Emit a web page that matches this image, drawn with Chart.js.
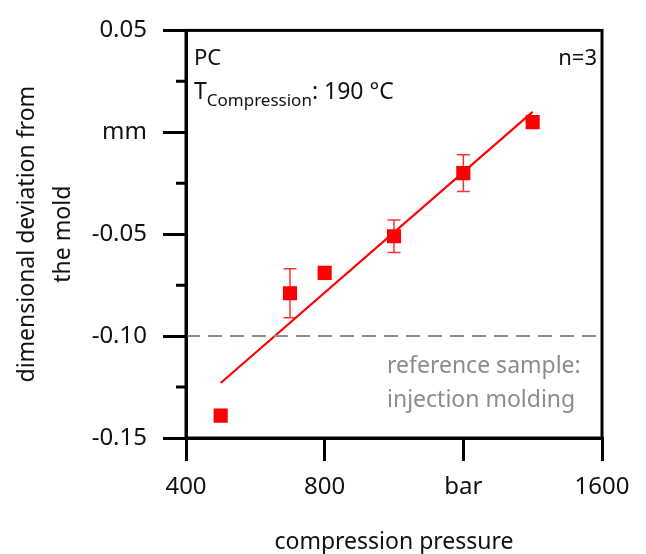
<!DOCTYPE html>
<html>
<head>
<meta charset="utf-8">
<script src="https://cdn.jsdelivr.net/npm/chart.js@4"></script>
<style>
    html, body { margin: 0; padding: 0; background: #fff; }
    canvas { display: block; }
</style>
</head>
<body>
<canvas id="chart" width="646" height="554"></canvas>
<script>
// measured data: compression pressure (bar) vs. deviation (mm)
const pressures = [500, 700, 800, 1000, 1200, 1400];
const deviations = [-0.139, -0.079, -0.069, -0.051, -0.020, 0.005];
const errors = [0, 0.012, 0, 0.008, 0.009, 0];

// linear fit end points
const fitX = [500, 1400];
const fitY = [-0.123, 0.010];

// reference level (injection molding)
const refX = [400, 1600];
const refY = [-0.10, -0.10];

const xTickLabels = ['400', '800', 'bar', '1600'];
const yTickLabels = ['-0.15', '-0.10', '-0.05', 'mm', '0.05'];
const yMinorTicks = [-0.125, -0.075, -0.025, 0.025];

const FONT = "'Noto Sans', sans-serif";
const RED = '#ff0000';

const frame = {
    id: 'frame',
    beforeDatasetsDraw(chart) {
        const ctx = chart.ctx;
        const x = chart.scales.x, y = chart.scales.y;
        // error bars
        ctx.save();
        ctx.strokeStyle = '#ff3333';
        ctx.lineWidth = 1.5;
        pressures.forEach((p, i) => {
            if (!errors[i]) return;
            const px = x.getPixelForValue(p);
            const top = y.getPixelForValue(deviations[i] + errors[i]);
            const bot = y.getPixelForValue(deviations[i] - errors[i]);
            ctx.beginPath();
            ctx.moveTo(px, top); ctx.lineTo(px, bot);
            ctx.moveTo(px - 6.5, top); ctx.lineTo(px + 6.5, top);
            ctx.moveTo(px - 6.5, bot); ctx.lineTo(px + 6.5, bot);
            ctx.stroke();
        });
        ctx.restore();
    },
    afterDraw(chart) {
        const ctx = chart.ctx;
        const a = chart.chartArea;
        const y = chart.scales.y;
        ctx.save();
        ctx.strokeStyle = '#000';
        ctx.lineWidth = 3;
        ctx.strokeRect(a.left, a.top, a.right - a.left, a.bottom - a.top);
        // minor ticks on y
        ctx.beginPath();
        yMinorTicks.forEach(v => {
            const py = y.getPixelForValue(v);
            ctx.moveTo(a.left - 10, py);
            ctx.lineTo(a.left, py);
        });
        ctx.stroke();

        // annotations
        ctx.fillStyle = '#111';
        ctx.textBaseline = 'alphabetic';
        ctx.font = '22px ' + FONT;
        ctx.textAlign = 'left';
        ctx.fillText('PC', a.left + 8, a.top + 35);
        ctx.textAlign = 'right';
        ctx.fillText('n=3', a.right - 5, a.top + 35);

        ctx.textAlign = 'left';
        let tx = a.left + 8;
        ctx.font = '23px ' + FONT;
        ctx.fillText('T', tx, a.top + 69);
        tx += ctx.measureText('T').width;
        ctx.font = '17px ' + FONT;
        ctx.fillText('Compression', tx, a.top + 76);
        tx += ctx.measureText('Compression').width;
        ctx.font = '23px ' + FONT;
        ctx.fillText(': 190 °C', tx, a.top + 69);

        ctx.fillStyle = '#8c8c8c';
        ctx.font = '23px ' + FONT;
        ctx.fillText('reference sample:', a.left + 201, a.top + 343);
        ctx.fillText('injection molding', a.left + 201, a.top + 377);
        ctx.restore();
    }
};

new Chart(document.getElementById('chart'), {
    type: 'scatter',
    data: {
        datasets: [{
            label: 'reference',
            data: refX.map((v, i) => ({ x: v, y: refY[i] })),
            showLine: true,
            borderColor: '#8c8c8c',
            borderWidth: 2,
            borderDash: [14, 8],
            pointRadius: 0
        }, {
            label: 'fit',
            data: fitX.map((v, i) => ({ x: v, y: fitY[i] })),
            showLine: true,
            borderColor: RED,
            borderWidth: 2.2,
            pointRadius: 0
        }, {
            label: 'PC',
            data: pressures.map((v, i) => ({ x: v, y: deviations[i] })),
            pointStyle: 'rect',
            pointRadius: 10,
            pointHoverRadius: 10,
            backgroundColor: RED,
            borderWidth: 0
        }]
    },
    options: {
        responsive: false,
        animation: false,
        maintainAspectRatio: false,
        layout: { padding: { top: 24, right: 44, left: 0, bottom: 0 } },
        plugins: { legend: { display: false }, tooltip: { enabled: false } },
        scales: {
            x: {
                type: 'linear',
                min: 400,
                max: 1600,
                afterFit(scale) { scale.height = 116; },
                afterBuildTicks(scale) {
                    scale.ticks = [400, 800, 1200, 1600].map(v => ({ value: v }));
                },
                border: { color: '#000', width: 3 },
                grid: { drawOnChartArea: false, color: '#000', lineWidth: 3, tickLength: 23 },
                ticks: {
                    color: '#111',
                    padding: 12,
                    maxRotation: 0,
                    font: { family: FONT, size: 24 },
                    callback: (v, i) => xTickLabels[i]
                },
                title: {
                    display: true,
                    text: 'compression pressure',
                    color: '#111',
                    font: { family: FONT, size: 23 },
                    padding: { top: 0, bottom: -2 }
                }
            },
            y: {
                type: 'linear',
                min: -0.15,
                max: 0.05,
                afterFit(scale) { scale.width = 186; },
                afterBuildTicks(scale) {
                    scale.ticks = [-0.15, -0.10, -0.05, 0, 0.05].map(v => ({ value: v }));
                },
                border: { color: '#000', width: 3 },
                grid: { drawOnChartArea: false, color: '#000', lineWidth: 3, tickLength: 23 },
                ticks: {
                    color: '#111',
                    padding: 16,
                    font: { family: FONT, size: 24 },
                    callback: (v, i) => yTickLabels[i]
                },
                title: {
                    display: true,
                    text: ['dimensional deviation from', 'the mold'],
                    color: '#111',
                    font: { family: FONT, size: 23, lineHeight: 1.565 },
                    padding: { top: 9, bottom: 0 }
                }
            }
        }
    },
    plugins: [frame]
});
</script>
</body>
</html>
